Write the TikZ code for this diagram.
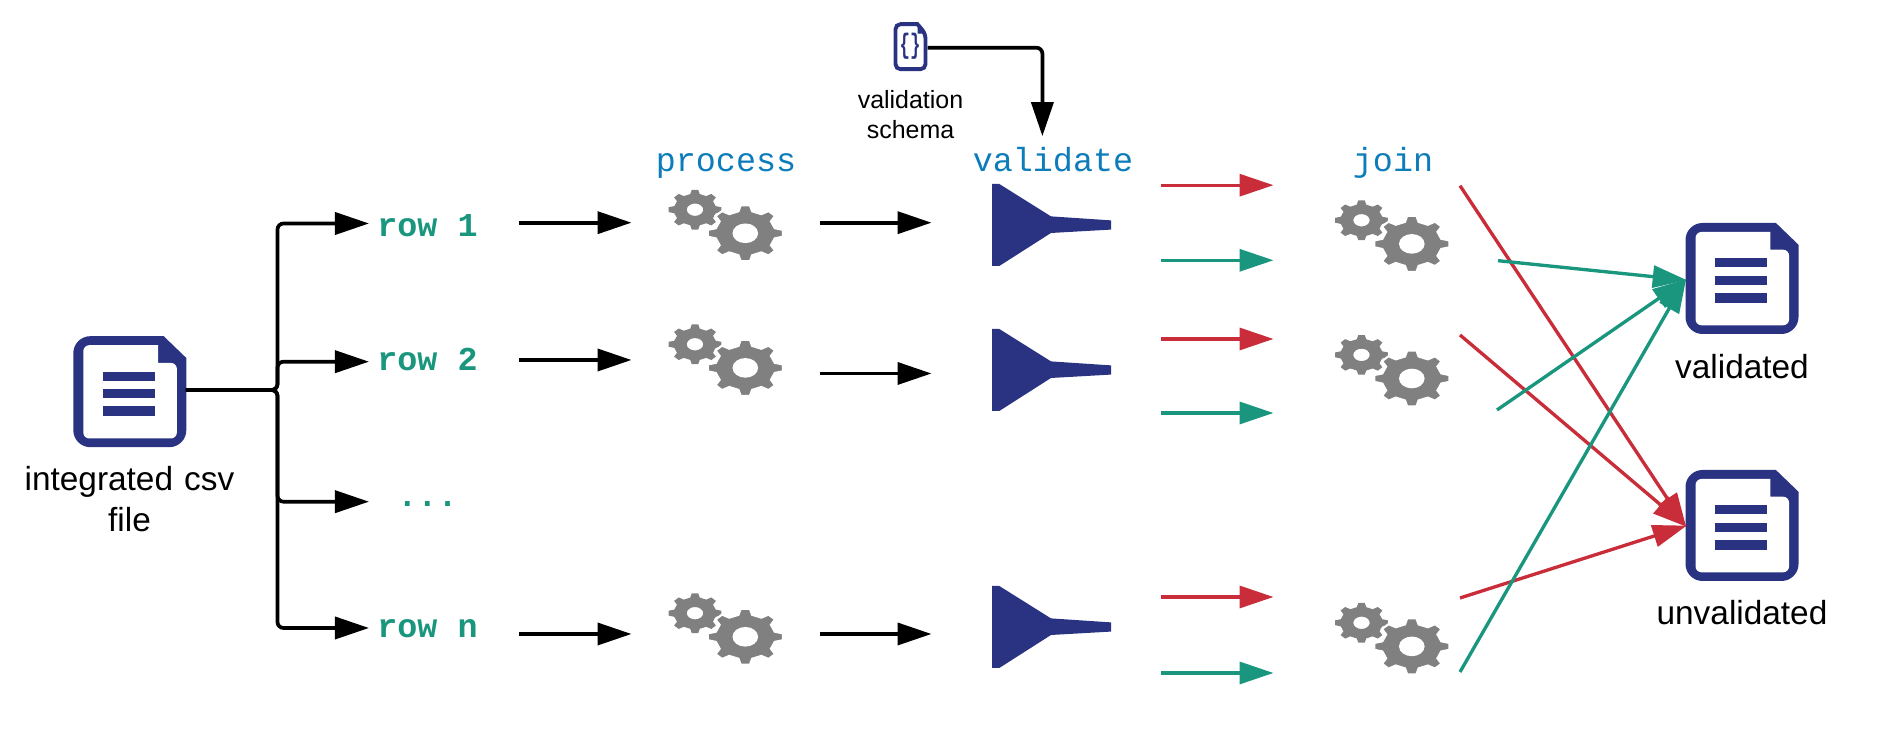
\documentclass[tikz,border=0pt]{standalone}
\usepackage{fontspec}
\setmainfont{Liberation Sans}
\setmonofont{Liberation Mono}
\usetikzlibrary{arrows.meta, positioning}
\definecolor{IconNavy}{HTML}{2A3282}
\definecolor{GearGray}{HTML}{808080}
\definecolor{StepBlue}{HTML}{0C7CBA}
\definecolor{GoodGreen}{HTML}{19967D}
\definecolor{BadRed}{HTML}{C92D39}
\newcommand{\gearpath}{(-13:.8) \foreach \a in {0,45,...,315} {-- (\a-13:.8) -- (\a-7:1) -- (\a+7:1) -- (\a+13:.8)} -- cycle (0,0) circle (.31)}
\tikzset{
  flow/.style={-{Triangle[length=.34cm,width=.22cm]}, line width=1.05pt, black, shorten >=-.012cm},
  redflow/.style={flow, line width=.95pt, BadRed, -{Triangle[length=.34cm,width=.22cm,fill=BadRed]}},
  greenflow/.style={flow, line width=.95pt, GoodGreen, -{Triangle[length=.34cm,width=.22cm,fill=GoodGreen]}},
  rowlabel/.style={font=\fontsize{9.5}{11}\ttfamily\bfseries, GoodGreen, inner sep=0pt, minimum width=1.01cm, text height=.2cm, text depth=0cm},
  steplabel/.style={font=\fontsize{9.5}{11}\ttfamily, StepBlue, anchor=base, inner sep=0pt},
  textlabel/.style={font=\fontsize{9.5}{11.9}\selectfont, align=center, inner sep=0pt},
  slot/.style={inner sep=0pt, minimum height=.5cm},
  docslot/.style={inner sep=0pt, minimum width=1.115cm, minimum height=1.11cm},
  docicon/.pic={
    \fill[IconNavy] (.339,.555) -- (-.395,.555) arc[start angle=90, end angle=180, radius=.17] -- (-.565,-.385) arc[start angle=180, end angle=270, radius=.17] -- (.395,-.555) arc[start angle=270, end angle=360, radius=.17] -- (.565,.337) -- cycle;
    \fill[white, rounded corners=.06cm] (.283,.465) -- (-.465,.465) -- (-.465,-.468) -- (.471,-.468) -- (.471,.288) [sharp corners] -- (.283,.288) -- cycle;
    \fill[IconNavy] (-.271,.2) rectangle (.249,.111);
    \fill[IconNavy] (-.271,.022) rectangle (.249,-.067);
    \fill[IconNavy] (-.271,-.144) rectangle (.249,-.244);
  },
  gearpair/.pic={
    \fill[GearGray, even odd rule, shift={(-.503,.236)}, xscale=.265, yscale=.2] \gearpath;
    \filldraw[GearGray, draw=white, line width=.6pt, even odd rule, xscale=.378, yscale=.282] \gearpath;
  },
  funnelicon/.pic={
    \fill[IconNavy] (0,.41) -- (.073,.41) -- (.59,.086) -- (1.19,.046) -- (1.19,-.046) -- (.59,-.08) -- (.073,-.41) -- (0,-.41) -- cycle;
  },
  schemaicon/.pic={
    \draw[IconNavy, line width=1.1pt, rounded corners=.05cm] (.07,.225) -- (-.15,.225) -- (-.15,-.225) -- (.15,-.225) -- (.15,.13) [sharp corners] -- (.07,.225) -- cycle;
    \fill[IconNavy] (.07,.24) -- (.16,.13) -- (.07,.13) -- cycle;
    \node[IconNavy, inner sep=0pt] (braces) at (-.005,0) {\scalebox{.62}[1]{\fontsize{8}{8}\ttfamily\bfseries\{\}}};
  },
}
\begin{document}
\begin{tikzpicture}
    \useasboundingbox (0,0) rectangle (18.84,7.31);
    % Input file
    \node[docslot] (inputfile) at (1.295,3.41) {};
    \pic at (1.298,3.393) {docicon};
    \node[textlabel, below=.19cm of inputfile, text width=2.6cm] (inputlabel) {integrated csv\\file};
    % Rows
    \coordinate (trunk) at (2.775,3.41);
    \node[rowlabel] (row1) at (4.275,5.048) {row 1};
    \node[rowlabel] (row2) at (4.275,3.708) {row 2};
    \node[rowlabel] (row3) at (4.275,2.344) {...};
    \node[rowlabel] (rown) at (4.275,1.032) {row n};
    \draw[flow, rounded corners=.06cm] (inputfile.east) -- (trunk) |- ([xshift=-.085cm,yshift=.027cm]row1.west);
    \draw[flow, rounded corners=.06cm] (inputfile.east) -- (trunk) |- ([xshift=-.085cm,yshift=-.015cm]row2.west);
    \draw[flow, rounded corners=.06cm] (inputfile.east) -- (trunk) |- ([xshift=-.085cm,yshift=-.051cm]row3.west);
    \draw[flow, rounded corners=.06cm] (inputfile.east) -- (trunk) |- ([xshift=-.085cm,yshift=-.002cm]rown.west);
    % Step titles
    \node[steplabel] (processlabel) at (7.26,5.59) {process};
    \node[steplabel] (validatelabel) at (10.53,5.59) {validate};
    \node[steplabel] (joinlabel) at (13.93,5.59) {join};
    % Process
    \node[slot, minimum width=1.88cm] (proc1) at (7.25,5.083) {};
    \node[slot, minimum width=1.88cm] (proc2) at (7.25,3.71) {};
    \node[slot, minimum width=1.88cm] (proc3) at (7.25,.97) {};
    \pic at (7.453,4.977) {gearpair};
    \pic at (7.453,3.631) {gearpair};
    \pic at (7.453,.942) {gearpair};
    \draw[flow, shorten <=.405cm] (row1.east |- proc1.west) -- (proc1.west);
    \draw[flow, shorten <=.405cm] (row2.east |- proc2.west) -- (proc2.west);
    \draw[flow, shorten <=.405cm] (rown.east |- proc3.west) -- (proc3.west);
    % Validate
    \node[slot, minimum width=2.29cm] (val1) at (10.455,5.083) {};
    \node[slot, minimum width=2.29cm] (val2) at (10.455,3.575) {};
    \node[slot, minimum width=2.29cm] (val3) at (10.455,.97) {};
    \pic at (9.92,5.06) {funnelicon};
    \pic at (9.92,3.61) {funnelicon};
    \pic at (9.92,1.04) {funnelicon};
    \draw[flow] (proc1.east |- val1.west) -- (val1.west);
    \draw[flow] (proc2.east |- val2.west) -- (val2.west);
    \draw[flow] (proc3.east |- val3.west) -- (val3.west);
    % Schema
    \node[slot, minimum width=.33cm] (schema) at (9.105,6.833) {};
    \pic at (9.105,6.843) {schemaicon};
    \node[textlabel, font=\fontsize{7.1}{8.5}\selectfont] (schemalabel) at (9.105,6.16) {validation\\schema};
    \coordinate (schemain) at (10.424,5.96);
    \draw[flow, rounded corners=.06cm] (schema.east) -| (schemain);
    % Join
    \node[slot, minimum width=1.87cm] (join1) at (13.665,5.083) {};
    \node[slot, minimum width=1.87cm] (join2) at (13.665,3.575) {};
    \node[slot, minimum width=1.87cm] (join3) at (13.665,.97) {};
    \pic at (14.118,4.871) {gearpair};
    \pic at (14.118,3.525) {gearpair};
    \pic at (14.118,.846) {gearpair};
    \draw[redflow] ([yshift=.375cm]val1.east) -- ([yshift=.375cm]join1.west);
    \draw[greenflow] ([yshift=-.376cm]val1.east) -- ([yshift=-.376cm]join1.west);
    \draw[redflow] ([yshift=.345cm]val2.east) -- ([yshift=.345cm]join2.west);
    \draw[greenflow] ([yshift=-.395cm]val2.east) -- ([yshift=-.395cm]join2.west);
    \draw[redflow] ([yshift=.37cm]val3.east) -- ([yshift=.37cm]join3.west);
    \draw[greenflow] ([yshift=-.39cm]val3.east) -- ([yshift=-.39cm]join3.west);
    % Outputs
    \node[docslot] (validated) at (17.42,4.51) {};
    \node[docslot] (unvalidated) at (17.42,2.05) {};
    \pic at (17.42,4.525) {docicon};
    \pic at (17.42,2.055) {docicon};
    \node[textlabel, below=.17cm of validated] (validatedlabel) {validated};
    \node[textlabel, below=.17cm of unvalidated] (unvalidatedlabel) {unvalidated};
    \coordinate (redout1) at (14.60,5.453);
    \coordinate (redout2) at (14.60,3.96);
    \coordinate (redout3) at (14.60,1.33);
    \coordinate (greenout1) at (14.98,4.703);
    \coordinate (greenout2) at (14.97,3.21);
    \coordinate (greenout3) at (14.60,.59);
    \draw[redflow] (redout1) -- (unvalidated.west);
    \draw[redflow] (redout2) -- (unvalidated.west);
    \draw[redflow] (redout3) -- (unvalidated.west);
    \draw[greenflow] (greenout1) -- (validated.west);
    \draw[greenflow] (greenout2) -- (validated.west);
    \draw[greenflow] (greenout3) -- (validated.west);
\end{tikzpicture}
\end{document}
